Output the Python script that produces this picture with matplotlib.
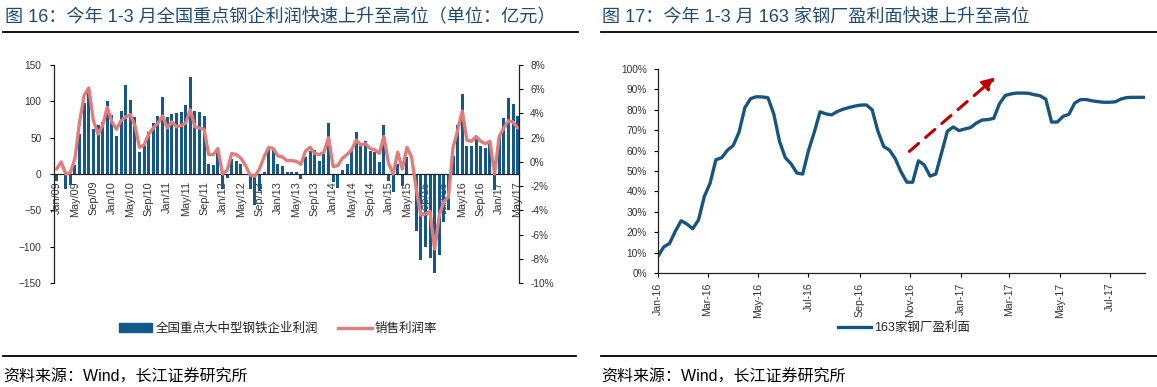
import matplotlib
matplotlib.use("Agg")
import matplotlib.pyplot as plt
import matplotlib.dates as mdates
from matplotlib.lines import Line2D
from matplotlib.patches import Patch
import numpy as np
import pandas as pd

plt.rcParams['font.family'] = ['Liberation Sans', 'Noto Sans CJK SC', 'DejaVu Sans']

# ---- figure 16: monthly profit of key steel firms (100m yuan) and sales margin (%)
months = pd.date_range('2009-01-01', '2017-05-01', freq='MS')
profit = [-10, -2, -20, -15, 12, 55, 98, 118, 62, 67, 72, 100,
          81, 52, 87, 123, 102, 78, 30, 40, 58, 70, 80, 106,
          78, 82, 84, 85, 95, 133, 87, 86, 80, 14, 12, 30,
          -21, -6, 21, 18, 14, 0, -20, -43, -24, 3, 35, 33,
          14, 11, 3, 3, 3, -7, 23, 32, 33, 18, 27, 70,
          -11, -19, 5, 14, 31, 58, 40, 46, 31, 30, 16, 67,
          -9, -25, 14, -16, 24, 0, -79, -119, -101, -116, -136, -111,
          -66, -49, 25, 67, 110, 39, 38, 48, 38, 36, 43, -22,
          53, 77, 105, 96, 80]
margin = [-0.6, 0.0, -1.0, -0.9, 0.3, 3.3, 5.5, 6.1, 3.4, 2.3, 3.0, 4.5,
          3.3, 2.7, 3.4, 3.7, 3.9, 3.0, 1.2, 1.4, 2.3, 2.8, 3.2, 3.8,
          2.8, 3.3, 2.9, 3.0, 3.2, 4.3, 2.9, 2.8, 2.7, 0.6, 0.6, 1.1,
          -1.0, -0.7, 0.7, 0.6, 0.3, -0.3, -1.1, -1.2, -0.6, 0.4, 1.2, 1.1,
          0.5, 0.4, 0.1, 0.1, 0.05, -0.2, 0.9, 1.2, 0.7, 0.6, 0.8, 2.0,
          -0.4, -0.3, 0.3, 0.6, 1.0, 1.8, 1.4, 1.5, 1.1, 1.0, 0.7, 2.1,
          -0.1, -1.0, 0.8, -0.6, 1.2, 0.4, -2.2, -4.4, -4.3, -4.1, -7.2, -4.4,
          -3.3, -2.9, 1.2, 2.6, 4.2, 1.8, 1.7, 2.1, 1.7, 1.5, 1.7, -1.0,
          2.1, 2.8, 3.4, 3.3, 2.8]
tick_every = 4

# ---- figure 17: share of 163 steel mills making a profit (%), weekly
weeks = pd.date_range('2016-01-01', periods=85, freq='7D')
profitable = [8.2, 12.8, 14.5, 20.5, 25.6, 24.0, 21.7, 26.0, 37.5, 44.0,
              55.5, 56.5, 60.2, 62.5, 69.0, 81.0, 85.5, 86.4, 86.3, 85.9,
              78.0, 64.5, 56.5, 53.5, 49.0, 48.5, 60.0, 69.0, 79.0, 78.0,
              77.5, 79.2, 80.3, 81.1, 81.8, 82.3, 82.4, 80.0, 69.5, 62.0,
              60.2, 56.0, 49.5, 44.5, 44.5, 55.0, 53.0, 47.5, 48.5, 59.0,
              69.5, 71.6, 69.8, 70.6, 71.3, 73.5, 75.0, 75.2, 75.8, 83.0,
              87.0, 87.8, 88.2, 88.2, 88.1, 87.4, 86.9, 85.2, 74.0, 74.0,
              76.8, 77.8, 83.3, 85.0, 85.0, 84.4, 84.0, 83.7, 83.7, 83.9,
              85.3, 86.0, 86.1, 86.1, 86.1]
arrow_from = (pd.Timestamp('2016-10-31'), 59.6)
arrow_to = (pd.Timestamp('2017-02-12'), 95.9)

title16 = '图 16：今年 1-3 月全国重点钢企利润快速上升至高位（单位：亿元）'
title17 = '图 17：今年 1-3 月 163 家钢厂盈利面快速上升至高位'
source = '资料来源：Wind，长江证券研究所'

bar_blue = '#14588a'
line_red = '#e07c7a'
line_blue = '#17557f'
title_col = '#1f4a75'
tick_col = '#333333'
W, H = 1157, 387

fig = plt.figure(figsize=(W / 100, H / 100), dpi=100)

# ---------------- left chart ----------------
ax = fig.add_axes([54 / W, 1 - 283 / H, 465 / W, 218 / H])
idx = np.arange(len(profit))
ax.bar(idx, profit, width=0.65, color=bar_blue, zorder=2)
ax.set_xlim(-0.55, len(profit) - 0.7)
ax.set_ylim(-150, 150)
ax.set_yticks(range(-150, 151, 50))
ax.spines['top'].set_visible(False)
ax.spines['right'].set_visible(False)
ax.spines['bottom'].set_position(('data', 0))
for s in ('left', 'bottom'):
    ax.spines[s].set_color('#222222')
    ax.spines[s].set_linewidth(0.9)
ax.set_xticks(idx[::tick_every])
ax.set_xticklabels([m.strftime('%b/%y') for m in months[::tick_every]],
                   rotation=90, fontsize=7.8, color=tick_col)
ax.tick_params(axis='x', length=0, pad=5)
ax.tick_params(axis='y', length=3, width=0.8, labelsize=7.3,
               labelcolor=tick_col, pad=6)

ax2 = ax.twinx()
ax2.plot(idx, margin, color=line_red, lw=2.4, solid_capstyle='round',
         solid_joinstyle='round')
ax2.set_ylim(-10, 8)
ax2.set_yticks(range(-10, 9, 2))
ax2.set_yticklabels([f'{v}%' for v in range(-10, 9, 2)])
for s in ('left', 'top', 'bottom'):
    ax2.spines[s].set_visible(False)
ax2.spines['right'].set_color('#222222')
ax2.spines['right'].set_linewidth(0.9)
ax2.tick_params(axis='y', length=3, width=0.8, labelsize=7.3,
                labelcolor=tick_col, pad=5)

leg1 = fig.legend(handles=[Patch(color=bar_blue, label='全国重点大中型钢铁企业利润'),
                           Line2D([], [], color=line_red, lw=2.4, label='销售利润率')],
                  loc='center', bbox_to_anchor=(278 / W, 1 - 329 / H), ncol=2,
                  frameon=False, fontsize=9, handlelength=2.7, handleheight=0.7,
                  handletextpad=0.25, columnspacing=1.6)
for t in leg1.get_texts():
    t.set_color('#222222')

# ---------------- right chart ----------------
bx = fig.add_axes([658 / W, 1 - 273 / H, 487 / W, 204 / H])
bx.plot(weeks, profitable, color=line_blue, lw=2.4, solid_capstyle='round',
        solid_joinstyle='round')
bx.set_xlim(pd.Timestamp('2016-01-01'), pd.Timestamp('2017-08-12'))
bx.set_ylim(0, 100)
bx.set_yticks(range(0, 101, 10))
bx.set_yticklabels([f'{v}%' for v in range(0, 101, 10)])
bx.xaxis.set_major_locator(mdates.MonthLocator(bymonth=[1, 3, 5, 7, 9, 11]))
bx.xaxis.set_major_formatter(mdates.DateFormatter('%b-%y'))
plt.setp(bx.get_xticklabels(), rotation=90)
bx.spines['top'].set_visible(False)
bx.spines['right'].set_visible(False)
for s in ('left', 'bottom'):
    bx.spines[s].set_color('#222222')
    bx.spines[s].set_linewidth(0.9)
bx.tick_params(axis='x', length=3, width=0.8, labelsize=7.6,
               labelcolor=tick_col, pad=4)
bx.tick_params(axis='y', length=3, width=0.8, labelsize=7.3,
               labelcolor=tick_col, pad=5)

bx.annotate('', xy=arrow_to, xytext=arrow_from,
            arrowprops=dict(arrowstyle='-|>', color='#c00000', lw=2.2,
                            ls=(0, (4, 3)), mutation_scale=18, shrinkA=0,
                            shrinkB=0))

leg2 = fig.legend(handles=[Line2D([], [], color=line_blue, lw=2.4,
                                  label='163家钢厂盈利面')],
                  loc='center', bbox_to_anchor=(904 / W, 1 - 328 / H),
                  frameon=False, fontsize=9, handlelength=2.7,
                  handletextpad=0.25)
for t in leg2.get_texts():
    t.set_color('#222222')

# ---------------- titles, rules, sources ----------------
fig.text(5 / W, 1 - 18 / H, title16, fontsize=13.1, color=title_col,
         va='center', ha='left')
fig.text(602 / W, 1 - 18 / H, title17, fontsize=13.1, color=title_col,
         va='center', ha='left')
for x0, x1, y in [(3, 578, 32), (601, 1157, 32), (3, 576, 356), (601, 1157, 356)]:
    fig.add_artist(Line2D([x0 / W, x1 / W], [1 - y / H, 1 - y / H],
                          transform=fig.transFigure, color='black', lw=1.3))
fig.text(3 / W, 1 - 377 / H, source, fontsize=11.5, color='black',
         va='center', ha='left')
fig.text(601 / W, 1 - 377 / H, source, fontsize=11.5, color='black',
         va='center', ha='left')

fig.savefig('out.png', dpi=100)
